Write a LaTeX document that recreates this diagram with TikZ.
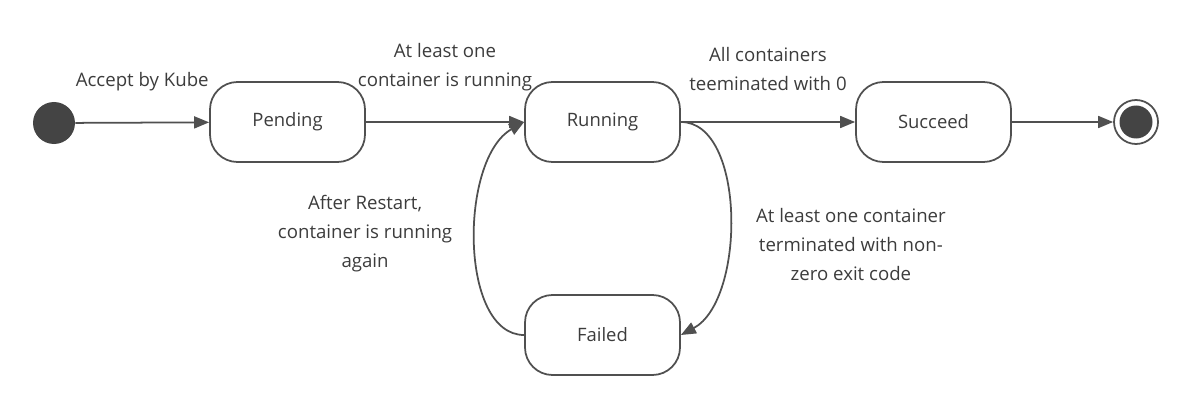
\documentclass[tikz,border=0pt]{standalone}
\usepackage{fontspec}
\setmainfont{Open Sans}
\usepackage{tikz}
\usetikzlibrary{calc,positioning,arrows.meta}

\definecolor{linegray}{HTML}{505050}
\definecolor{textgray}{HTML}{3C3C3C}

\begin{document}
\begin{tikzpicture}[
        state/.style={draw=linegray, line width=1pt, rounded corners=0.55cm,
            minimum width=3.1cm, minimum height=1.6cm, font=\fontsize{10.5}{13}\selectfont, text=textgray},
        trans/.style={-{Triangle[length=0.3cm, width=0.24cm]}, line width=1pt, draw=linegray},
        lbl/.style={font=\fontsize{10.6}{16.5}\selectfont, text=textgray, align=center, inner sep=0pt}
    ]
                \useasboundingbox (0,0) rectangle (23.94,8.02);
                \node[circle, fill=linegray!85!black, minimum size=0.84cm, inner sep=0pt] (start) at (1.08,5.56) {};
                \node[state] (pending) at (5.75,5.58) {Pending};
                \node[state] (running) at (12.05,5.58) {Running};
                \node[state] (succeed) at (18.67,5.58) {Succeed};
                \node[state] (failed)  at (12.05,1.32) {Failed};
                \node[circle, draw=linegray, line width=1pt, minimum size=0.88cm, inner sep=0pt] (stop) at (22.72,5.58) {};
                \fill[linegray!85!black] (stop) circle (0.33cm);
                \draw[trans] (start) -- (pending) node[midway, above=0.62cm, lbl] {Accept by Kube};
                \draw[trans] (pending) -- (running) node[midway, above=0.6cm, lbl] {At least one\\container is running};
                \draw[trans] (running) -- (succeed) node[midway, above=0.6cm, lbl] {All containers\\teeminated with 0};
                \draw[trans] (succeed) -- (stop);
                \draw[trans] (running.east) .. controls +(1.3,0) and +(1.3,0.7) .. (failed.east)
                    node[pos=0.6, right=0.55cm, lbl] {At least one container\\terminated with non-\\zero exit code};
                \draw[trans] (failed.west) .. controls +(-1.3,0) and +(-1.3,-0.74) .. (running.west)
                    node[pos=0.53, left=0.45cm, lbl] {After Restart,\\container is running\\again};
            \end{tikzpicture}
\end{document}
